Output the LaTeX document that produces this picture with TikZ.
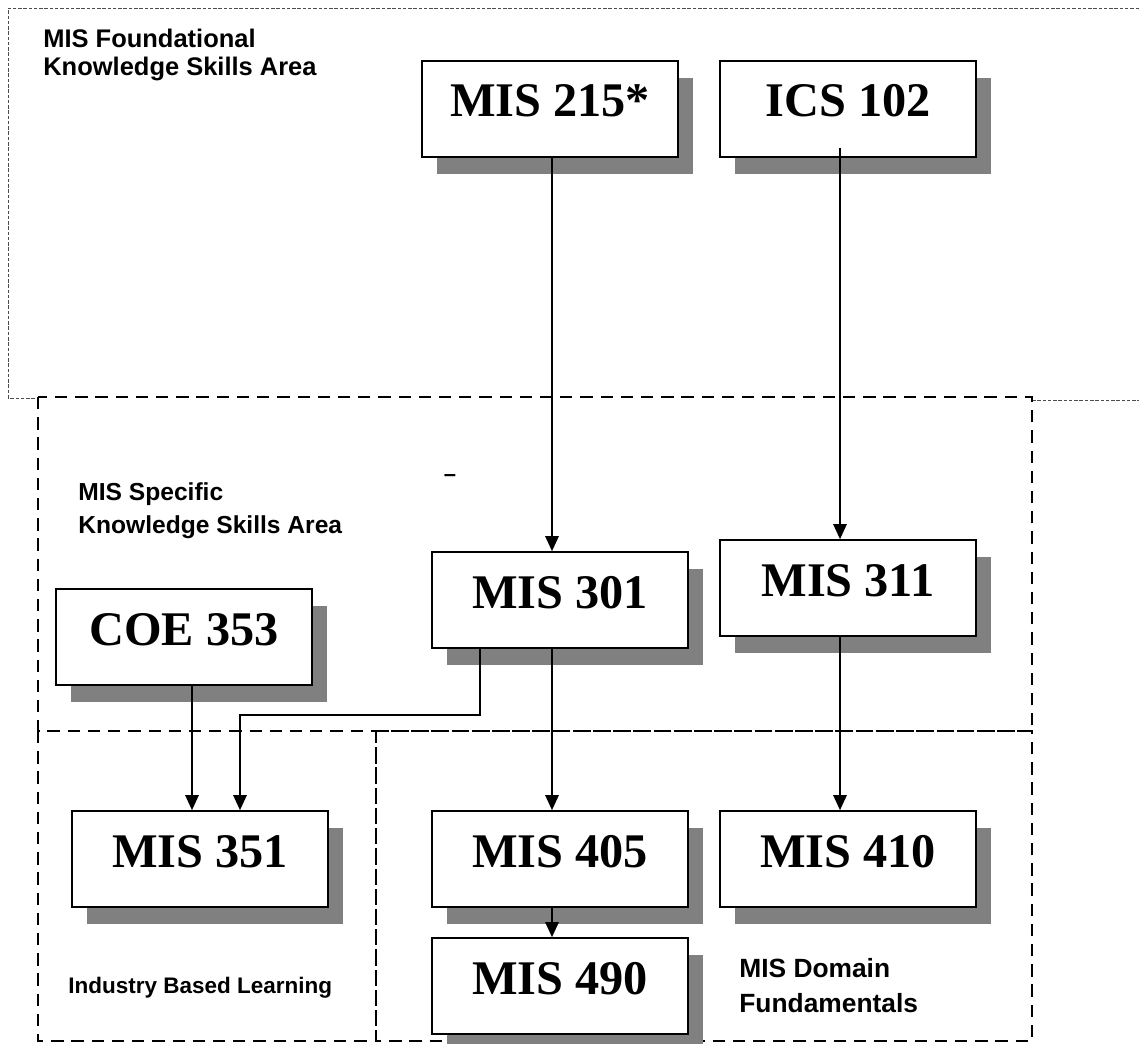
\documentclass[tikz,border=0pt]{standalone}
\usepackage{fontspec}
\setmainfont{Liberation Serif}
\setsansfont{Liberation Sans}
\usetikzlibrary{arrows.meta,calc,shadows}
\begin{document}
\begin{tikzpicture}[x=0.02cm,y=-0.02cm,
  course/.style={draw, line width=1pt, fill=white, minimum width=5.12cm, inner sep=0pt,
    text height=1.12cm, text depth=0.8cm, font=\fontsize{27.5}{30}\selectfont\bfseries,
    drop shadow={shadow xshift=0.3cm, shadow yshift=-0.34cm, fill=black!50, opacity=1}},
  area/.style={font=\fontsize{#1}{#1}\selectfont\sffamily\bfseries, align=left, anchor=north west, inner sep=0pt},
  link/.style={draw, line width=0.8pt, -{Triangle[length=0.3cm,width=0.27cm]}},
  frame/.style={line width=1.2pt, dash pattern=on 7pt off 4.5pt}]
\useasboundingbox (0,0) rectangle (1139,1044);
% areas
\draw[black!70, line width=0.5pt, dash pattern=on 2pt off 1pt] (1139,8) -- (8,8) -- (8,398) -- (38,398);
\draw[black!70, line width=0.5pt, dash pattern=on 2pt off 1pt] (1032,400) -- (1139,400);
\draw[frame] (38,397) rectangle (1032,731);
\draw[frame, line width=1pt] (38,731) -- (38,1041) -- (376,1041) -- (376,731);
\draw[frame, line width=0.8pt] (376,731) rectangle (1032,1041);
\node[area=14.5, font=\fontsize{14.5}{16}\selectfont\sffamily\bfseries] (found) at (43,29) {MIS Foundational\\Knowledge Skills Area};
\node[area=14, font=\fontsize{14}{19}\selectfont\sffamily\bfseries] (spec) at (78,482) {MIS Specific\\Knowledge Skills Area};
\node[area=12.8] (ibl) at (68,977) {Industry Based Learning};
\node[area=15, font=\fontsize{15}{20}\selectfont\sffamily\bfseries] (dom) at (739,958) {MIS Domain\\Fundamentals};
\node[font=\fontsize{12.5}{14}\selectfont\sffamily\bfseries] (tick) at (450,478) {–};
% courses
\node[course] (mis215) at (550,109) {MIS 215*};
\node[course] (ics102) at (848,109) {ICS 102};
\node[course] (mis301) at (560,600) {MIS 301};
\node[course] (mis311) at (848,588) {MIS 311};
\node[course] (coe353) at (184,637) {COE 353};
\node[course] (mis351) at (200,859) {MIS 351};
\node[course] (mis405) at (560,859) {MIS 405};
\node[course] (mis410) at (848,859) {MIS 410};
\node[course] (mis490) at (560,986) {MIS 490};
% prerequisites
\coordinate (bend) at (240,715);
\draw[link] ($(mis215.south)+(2,0)$) -- ($(mis301.north)+(-8,0)$);
\draw[link] ($(ics102.south)+(-8,-10)$) -- ($(mis311.north)+(-8,0)$);
\draw[link] ($(mis301.south)+(-8,0)$) -- ($(mis405.north)+(-8,0)$);
\draw[link] ($(mis311.south)+(-8,0)$) -- ($(mis410.north)+(-8,0)$);
\draw[link] ($(mis405.south)+(-8,0)$) -- ($(mis490.north)+(-8,0)$);
\draw[link] ($(coe353.south)+(8,0)$) -- ($(mis351.north)+(-8,0)$);
\draw[link] ($(mis301.south)+(-80,0)$) |- (bend) -- ($(mis351.north)+(40,0)$);
\end{tikzpicture}
\end{document}
